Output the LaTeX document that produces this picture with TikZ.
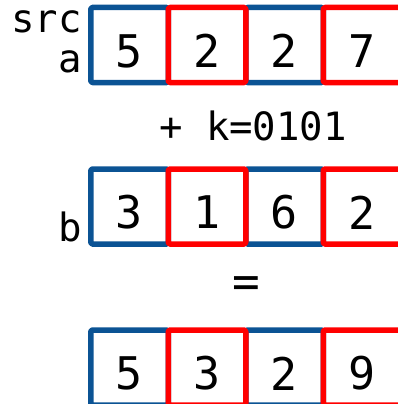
\documentclass[tikz,border=0pt]{standalone}
\usepackage{fontspec}
\setmonofont{DejaVu Sans Mono}
\definecolor{cellblue}{RGB}{11,83,148}
\definecolor{cellred}{RGB}{255,0,0}
\begin{document}
\begin{tikzpicture}[x=1pt,y=-1pt,
  cell/.style={minimum width=77.5pt,minimum height=75pt,inner sep=0pt,
    line width=5.5pt,rounded corners=1.5pt,line join=round},
  bluecell/.style={cell,draw=cellblue},
  redcell/.style={cell,draw=cellred},
  digit/.style={font=\ttfamily\fontsize{45}{50}\selectfont,inner sep=0pt},
  lbl/.style={font=\ttfamily\fontsize{39}{44}\selectfont,inner sep=0pt}]
\useasboundingbox (0,0) rectangle (398,404);
\clip (0,0) rectangle (398,404);
% row a
\node[bluecell] (a1) at (129.5,45) {};
\node[bluecell] (a3) at (284.5,45) {};
\node[redcell]  (a2) at (207,45) {};
\node[redcell]  (a4) at (362,45) {};
% row b
\node[bluecell] (b1) at (129.5,206.5) {};
\node[bluecell] (b3) at (284.5,206.5) {};
\node[redcell]  (b2) at (207,206.5) {};
\node[redcell]  (b4) at (362,206.5) {};
% row c
\node[bluecell] (c1) at (129.5,367.5) {};
\node[bluecell] (c3) at (284.5,367.5) {};
\node[redcell]  (c2) at (207,367.5) {};
\node[redcell]  (c4) at (362,367.5) {};
% digits
\foreach \r/\d in {a1/5,a2/2,a3/2,a4/7,b1/3,b2/1,b3/6,b4/2,c1/5,c2/3,c3/2,c4/9}
  \node[digit] (d\r) at ([yshift=-6pt]\r.center) {\d};
% labels
\node[lbl,anchor=base east] (src) at (82,33) {src};
\node[lbl,anchor=base east] (la) at (82,73) {a};
\node[lbl,anchor=base east] (lb) at (82,241) {b};
\node[lbl,anchor=base] (op) at (253,140) {+ k=0101};
\node[lbl,font=\ttfamily\fontsize{46}{50}\selectfont,anchor=center] (eq) at (246,287) {=};
\end{tikzpicture}
\end{document}
